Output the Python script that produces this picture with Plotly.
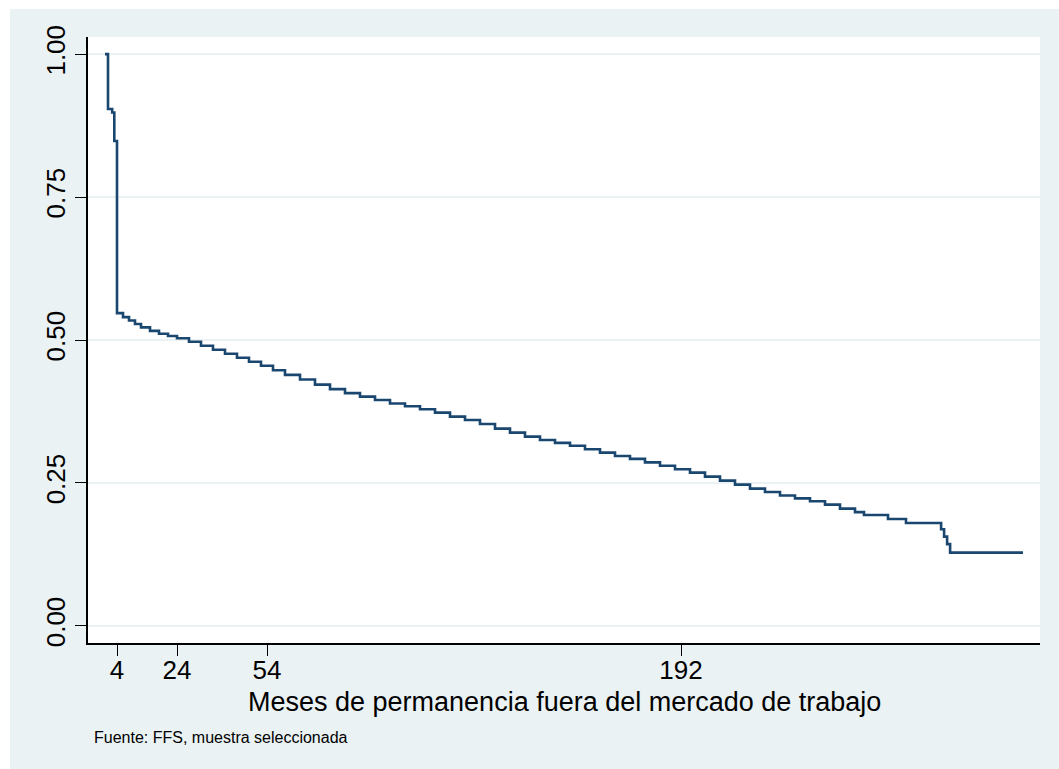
import plotly.graph_objects as go

# Kaplan-Meier style survival estimate
months = [0, 1, 2.4, 3.1, 4, 6, 8, 10, 12, 15, 18, 21, 24, 28, 32, 36, 40, 44, 48, 52,
          56, 60, 65, 70, 75, 80, 85, 90, 95, 100, 105, 110, 115, 120, 125, 130, 135,
          140, 145, 150, 155, 160, 165, 170, 175, 180, 185, 190, 195, 200, 205, 210,
          215, 220, 225, 230, 235, 240, 245, 250, 253, 261, 267, 278.7, 279.7, 280.7,
          281.7, 306]
survival = [1.0, 0.904, 0.898, 0.848, 0.547, 0.540, 0.534, 0.528, 0.522, 0.516, 0.511,
            0.507, 0.503, 0.497, 0.490, 0.483, 0.476, 0.469, 0.462, 0.455, 0.447, 0.439,
            0.431, 0.422, 0.414, 0.407, 0.401, 0.395, 0.389, 0.384, 0.379, 0.373, 0.366,
            0.360, 0.353, 0.345, 0.338, 0.331, 0.325, 0.320, 0.315, 0.309, 0.303, 0.297,
            0.292, 0.286, 0.280, 0.274, 0.268, 0.261, 0.254, 0.247, 0.240, 0.234, 0.228,
            0.223, 0.218, 0.212, 0.205, 0.199, 0.194, 0.187, 0.180, 0.169, 0.156, 0.143,
            0.128, 0.128]

x_ticks = [4, 24, 54, 192]
y_ticks = [0, 0.25, 0.5, 0.75, 1.0]
x_title = "Meses de permanencia fuera del mercado de trabajo"
note = "Fuente: FFS, muestra seleccionada"

BG = "#EAF2F3"
LINE = "#1A476F"
FONT = "Liberation Sans, Arial, sans-serif"

fig = go.Figure()
fig.add_trace(go.Scatter(x=months, y=survival, mode="lines", line_shape="hv",
                         line=dict(color=LINE, width=2.6), showlegend=False,
                         hoverinfo="skip"))

W, H = 1059, 769
L, R, T, B = 88, 19, 37, 126
pw, ph = W - L - R, H - T - B

def px_x(p):
    return (p - L) / pw

def px_y(p):
    return (H - B - p) / ph

fig.update_layout(
    width=W, height=H,
    margin=dict(l=L, r=R, t=T, b=B, pad=0),
    paper_bgcolor=BG, plot_bgcolor="white",
    font=dict(family=FONT, color="black", size=26),
    xaxis=dict(range=[-5.667, 311.667], tickvals=x_ticks, ticks="outside", ticklen=11,
               tickwidth=1, tickcolor="black", showgrid=False, zeroline=False,
               showline=True, linecolor="black", linewidth=1.5,
               tickfont=dict(size=26, family=FONT), ticklabelstandoff=-8),
    yaxis=dict(range=[-0.03, 1.03], tickvals=y_ticks, tickformat=".2f", ticks="outside",
               ticklen=11, tickwidth=1, tickcolor="black", showgrid=True, gridcolor=BG,
               gridwidth=2, zeroline=False, showline=True, linecolor="black",
               linewidth=1.5, tickangle=-90, tickfont=dict(size=26, family=FONT),
               ticklabelstandoff=0),
    shapes=[
        dict(type="rect", xref="paper", yref="paper", x0=px_x(0), x1=px_x(W),
             y0=px_y(9), y1=px_y(0), fillcolor="white", line=dict(width=0), layer="above"),
        dict(type="rect", xref="paper", yref="paper", x0=px_x(0), x1=px_x(10),
             y0=px_y(H), y1=px_y(0), fillcolor="white", line=dict(width=0), layer="above"),
    ],
    annotations=[
        dict(text=x_title, xref="paper", yref="paper", x=0.5, y=px_y(702),
             xanchor="center", yanchor="middle", showarrow=False,
             font=dict(size=27, family=FONT)),
        dict(text=note, xref="paper", yref="paper", x=px_x(92), y=px_y(737),
             xanchor="left", yanchor="middle", showarrow=False,
             font=dict(size=16, family=FONT)),
    ],
)

fig.write_html("out.html")
